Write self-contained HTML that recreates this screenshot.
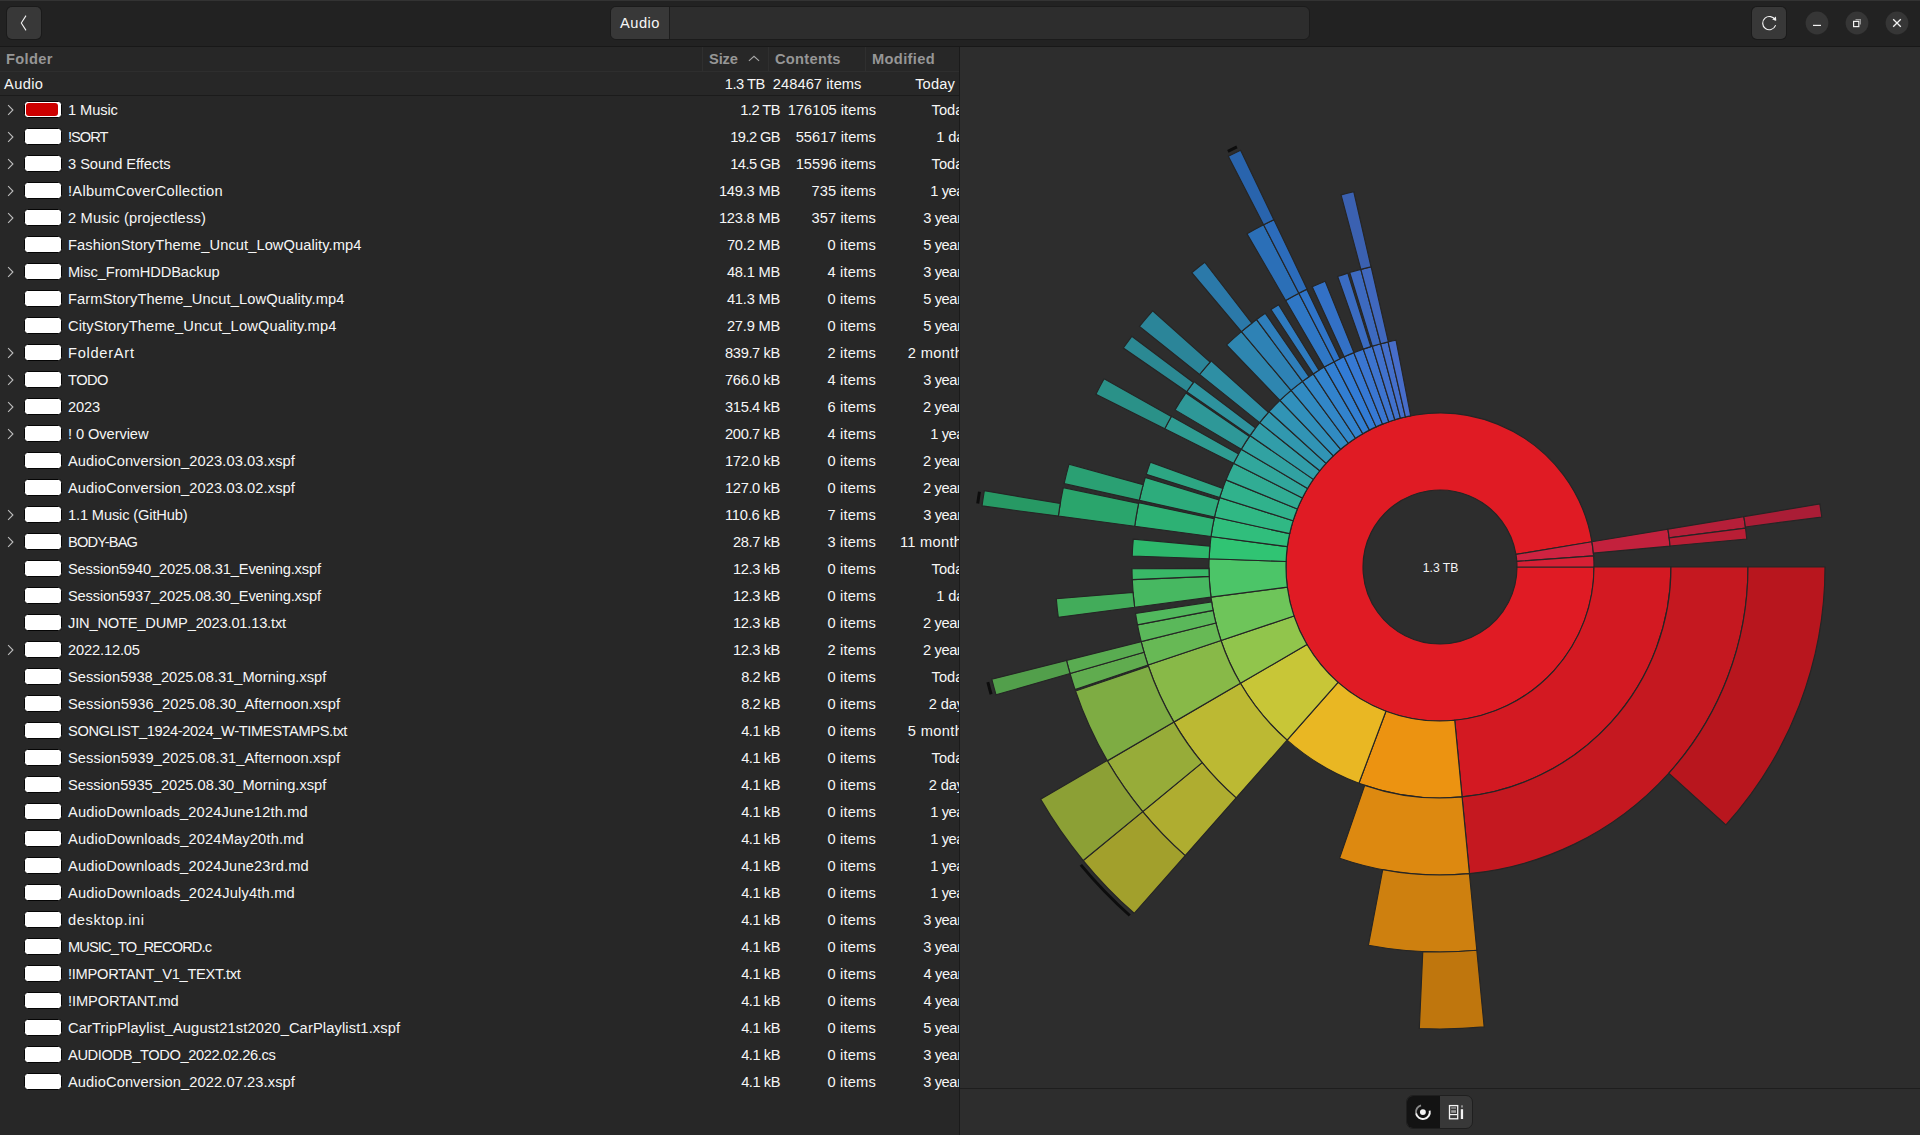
<!DOCTYPE html>
<html lang="en">
<head>
<meta charset="utf-8">
<title>Disk Usage Analyzer</title>
<style>
*{box-sizing:border-box;margin:0;padding:0}
html,body{width:1920px;height:1135px;overflow:hidden;background:#272727}
body{position:relative;font-family:"Liberation Sans","DejaVu Sans",sans-serif;font-size:14.667px;color:#f6f6f6;-webkit-font-smoothing:antialiased}
.abs{position:absolute}
#hdr{left:0;top:0;width:1920px;height:47px;background:#222222;border-top:1px solid #333333;border-bottom:1px solid #181818}
.btn{position:absolute;background:#383838;border-radius:5px;box-shadow:0 0 0 1px #1a1a1a}
.circ{position:absolute;width:24px;height:24px;top:11px}
#path{left:610px;top:6px;width:700px;height:34px;background:#2d2d2d;border:1px solid #1b1b1b;border-radius:6px;overflow:hidden}
#path .crumb{position:absolute;left:0;top:0;width:58px;height:32px;background:#383838;border-right:0}
#path .sep{position:absolute;left:58px;top:0;width:1px;height:32px;background:#1d1d1d}
#path .lbl{position:absolute;left:9px;top:0;line-height:32px;white-space:nowrap;color:#f6f6f6}
#left{left:0;top:47px;width:959px;height:1088px;background:#272727;overflow:hidden}
#vsep{left:959px;top:47px;width:1px;height:1088px;background:#1a1a1a}
#right{left:960px;top:47px;width:960px;height:1088px;background:#2d2d2d}
#hsep{left:960px;top:1088px;width:960px;height:1px;background:#1e1e1e}
.ch{position:absolute;top:47px;height:24px;line-height:24px;font-weight:bold;color:#969696;white-space:nowrap}
.vl{position:absolute;top:47px;width:1px;height:24px;background:#2f2f2f}
.hl{position:absolute;left:0;width:959px;height:1px}
.t{position:absolute;top:1px;line-height:27px;white-space:nowrap}
.row{position:absolute;left:0;width:959px;height:27px;overflow:hidden}
.chev{position:absolute;left:6px;top:8px}
.sw{position:absolute;left:24px;top:5px;width:38px;height:17px;border:1px solid #050505;border-radius:3.5px;background:#ffffff}
.sw i{position:absolute;left:1px;top:1px;width:32px;height:13px;background:#cc0000;border-radius:3px}
.nm{left:68px}
.sz{right:179px;text-align:right}
.ct{right:83px;text-align:right}
.md{}
#root{position:absolute;left:0;top:72px;width:959px;height:23px;overflow:hidden}
#root .t{line-height:24px;top:-0.2px}
#seg{left:1406px;top:1095px;width:67px;height:34px;border:1px solid #1f1f1f;border-radius:7px;overflow:hidden;background:#383838}
#seg .a{position:absolute;left:0;top:0;width:33px;height:32px;background:#131313}
</style>
</head>
<body>
<div id="hdr" class="abs"></div>
<div class="btn" style="left:7px;top:7px;width:34px;height:32px"><svg width="34" height="32" viewBox="0 0 34 32"><path d="M19 8.6 L14.3 16 L19 23.4" fill="none" stroke="#f2f2f2" stroke-width="1.1" stroke-linejoin="round"/></svg></div>
<div id="path" class="abs"><div class="crumb"></div><div class="sep"></div><span class="lbl" id="hAudio" style="letter-spacing:0.500px;">Audio</span></div>
<div class="btn" style="left:1752px;top:7px;width:34px;height:32px"><svg width="34" height="32" viewBox="0 0 34 32"><path d="M23.2 13.2 A6.6 6.6 0 1 0 23.4 18.6" fill="none" stroke="#f2f2f2" stroke-width="1.15" stroke-linecap="round"/><path d="M20.2 12.6 L24.3 13.6 L23.9 9.4 Z" fill="#f2f2f2"/></svg></div>
<div class="circ" style="left:1805px"><svg width="24" height="24" viewBox="0 0 24 24"><circle cx="12" cy="12" r="11.4" fill="#363636"/><path d="M8 14.4 H16" stroke="#f2f2f2" stroke-width="1.2" fill="none"/></svg></div>
<div class="circ" style="left:1845px"><svg width="24" height="24" viewBox="0 0 24 24"><circle cx="12" cy="12" r="11.4" fill="#363636"/><path d="M10.5 8.6 H15.4 V13.5" stroke="#9a9a9a" stroke-width="1.1" fill="none"/><rect x="8.6" y="10.4" width="5.2" height="5.2" stroke="#f2f2f2" stroke-width="1.2" fill="none"/></svg></div>
<div class="circ" style="left:1885px"><svg width="24" height="24" viewBox="0 0 24 24"><circle cx="12" cy="12" r="11.4" fill="#363636"/><path d="M8.2 8.2 L15.8 15.8 M15.8 8.2 L8.2 15.8" stroke="#f2f2f2" stroke-width="1.3" fill="none"/></svg></div>

<div id="left" class="abs"></div>
<div id="right" class="abs"></div>
<div id="vsep" class="abs"></div>
<div id="hsep" class="abs"></div>

<span class="ch" id="hf" style="left:6px;letter-spacing:0.341px;">Folder</span>
<span class="ch" id="hs" style="left:709px;letter-spacing:-0.143px;">Size</span>
<svg class="abs" style="left:747px;top:54px" width="14" height="10" viewBox="0 0 14 10"><path d="M1.9 6.9 L7 2.3 L12.1 6.9" fill="none" stroke="#a8a8a8" stroke-width="1.1"/></svg>
<span class="ch" id="hc" style="left:775px;letter-spacing:0.283px;">Contents</span>
<span class="ch" id="hm" style="left:872px;letter-spacing:0.350px;">Modified</span>
<div class="vl" style="left:702px"></div><div class="vl" style="left:768px"></div><div class="vl" style="left:865px"></div>
<div class="hl" style="top:71px;background:#2e2e2e"></div>
<div class="hl" style="top:95px;background:#1b1b1b"></div>

<div id="root">
<span class="t" id="rAudio" style="left:4px;letter-spacing:0.375px;">Audio</span>
<span class="t" id="rsz" style="right:194.3px;letter-spacing:-0.504px;">1.3 TB</span>
<span class="t" id="rct" style="right:97.5px;letter-spacing:0.055px;">248467 items</span>
<span class="t" id="rmd" style="right:4px;letter-spacing:0.148px;">Today</span>
</div>

<div class="row" style="top:96px"><svg class="chev" width="8" height="12" viewBox="0 0 8 12"><path d="M2.1 1.2 L6.9 6 L2.1 10.8" fill="none" stroke="#bdbdbd" stroke-width="1.1"/></svg><span class="sw"><i></i></span><span class="nm t" id="n0" style="letter-spacing:-0.100px;">1 Music</span><span class="sz t" id="s0" style="letter-spacing:-0.524px;">1.2 TB</span><span class="ct t" id="c0" style="letter-spacing:0.027px;">176105 items</span><span class="md t" style="left:931.6px;letter-spacing:0px">Today</span></div>
<div class="row" style="top:123px"><svg class="chev" width="8" height="12" viewBox="0 0 8 12"><path d="M2.1 1.2 L6.9 6 L2.1 10.8" fill="none" stroke="#bdbdbd" stroke-width="1.1"/></svg><span class="sw"></span><span class="nm t" id="n1" style="letter-spacing:-1.033px;">!SORT</span><span class="sz t" id="s1" style="letter-spacing:-0.580px;">19.2 GB</span><span class="ct t" id="c1" style="letter-spacing:0.046px;">55617 items</span><span class="md t" style="left:936.3px;letter-spacing:-0.13px">1 day</span></div>
<div class="row" style="top:150px"><svg class="chev" width="8" height="12" viewBox="0 0 8 12"><path d="M2.1 1.2 L6.9 6 L2.1 10.8" fill="none" stroke="#bdbdbd" stroke-width="1.1"/></svg><span class="sw"></span><span class="nm t" id="n2" style="letter-spacing:-0.044px;">3 Sound Effects</span><span class="sz t" id="s2" style="letter-spacing:-0.580px;">14.5 GB</span><span class="ct t" id="c2" style="letter-spacing:0.046px;">15596 items</span><span class="md t" style="left:931.6px;letter-spacing:0px">Today</span></div>
<div class="row" style="top:177px"><svg class="chev" width="8" height="12" viewBox="0 0 8 12"><path d="M2.1 1.2 L6.9 6 L2.1 10.8" fill="none" stroke="#bdbdbd" stroke-width="1.1"/></svg><span class="sw"></span><span class="nm t" id="n3" style="letter-spacing:0.276px;">!AlbumCoverCollection</span><span class="sz t" id="s3" style="letter-spacing:-0.205px;">149.3 MB</span><span class="ct t" id="c3" style="letter-spacing:0.094px;">735 items</span><span class="md t" style="left:930.3px;letter-spacing:-0.43px">1 year</span></div>
<div class="row" style="top:204px"><svg class="chev" width="8" height="12" viewBox="0 0 8 12"><path d="M2.1 1.2 L6.9 6 L2.1 10.8" fill="none" stroke="#bdbdbd" stroke-width="1.1"/></svg><span class="sw"></span><span class="nm t" id="n4" style="letter-spacing:0.170px;">2 Music (projectless)</span><span class="sz t" id="s4" style="letter-spacing:-0.205px;">123.8 MB</span><span class="ct t" id="c4" style="letter-spacing:0.094px;">357 items</span><span class="md t" style="left:923.2px;letter-spacing:-0.38px">3 years</span></div>
<div class="row" style="top:231px"><span class="sw"></span><span class="nm t" id="n5" style="letter-spacing:0.077px;">FashionStoryTheme_Uncut_LowQuality.mp4</span><span class="sz t" id="s5" style="letter-spacing:-0.216px;">70.2 MB</span><span class="ct t" id="c5" style="letter-spacing:0.175px;">0 items</span><span class="md t" style="left:923.2px;letter-spacing:-0.38px">5 years</span></div>
<div class="row" style="top:258px"><svg class="chev" width="8" height="12" viewBox="0 0 8 12"><path d="M2.1 1.2 L6.9 6 L2.1 10.8" fill="none" stroke="#bdbdbd" stroke-width="1.1"/></svg><span class="sw"></span><span class="nm t" id="n6" style="letter-spacing:-0.089px;">Misc_FromHDDBackup</span><span class="sz t" id="s6" style="letter-spacing:-0.216px;">48.1 MB</span><span class="ct t" id="c6" style="letter-spacing:0.175px;">4 items</span><span class="md t" style="left:923.2px;letter-spacing:-0.38px">3 years</span></div>
<div class="row" style="top:285px"><span class="sw"></span><span class="nm t" id="n7" style="letter-spacing:0.111px;">FarmStoryTheme_Uncut_LowQuality.mp4</span><span class="sz t" id="s7" style="letter-spacing:-0.216px;">41.3 MB</span><span class="ct t" id="c7" style="letter-spacing:0.175px;">0 items</span><span class="md t" style="left:923.2px;letter-spacing:-0.38px">5 years</span></div>
<div class="row" style="top:312px"><span class="sw"></span><span class="nm t" id="n8" style="letter-spacing:0.140px;">CityStoryTheme_Uncut_LowQuality.mp4</span><span class="sz t" id="s8" style="letter-spacing:-0.216px;">27.9 MB</span><span class="ct t" id="c8" style="letter-spacing:0.175px;">0 items</span><span class="md t" style="left:923.2px;letter-spacing:-0.38px">5 years</span></div>
<div class="row" style="top:339px"><svg class="chev" width="8" height="12" viewBox="0 0 8 12"><path d="M2.1 1.2 L6.9 6 L2.1 10.8" fill="none" stroke="#bdbdbd" stroke-width="1.1"/></svg><span class="sw"></span><span class="nm t" id="n9" style="letter-spacing:0.715px;">FolderArt</span><span class="sz t" id="s9" style="letter-spacing:-0.366px;">839.7 kB</span><span class="ct t" id="c9" style="letter-spacing:0.175px;">2 items</span><span class="md t" style="left:907.7px;letter-spacing:0.36px">2 months</span></div>
<div class="row" style="top:366px"><svg class="chev" width="8" height="12" viewBox="0 0 8 12"><path d="M2.1 1.2 L6.9 6 L2.1 10.8" fill="none" stroke="#bdbdbd" stroke-width="1.1"/></svg><span class="sw"></span><span class="nm t" id="n10" style="letter-spacing:-0.559px;">TODO</span><span class="sz t" id="s10" style="letter-spacing:-0.366px;">766.0 kB</span><span class="ct t" id="c10" style="letter-spacing:0.175px;">4 items</span><span class="md t" style="left:923.2px;letter-spacing:-0.38px">3 years</span></div>
<div class="row" style="top:393px"><svg class="chev" width="8" height="12" viewBox="0 0 8 12"><path d="M2.1 1.2 L6.9 6 L2.1 10.8" fill="none" stroke="#bdbdbd" stroke-width="1.1"/></svg><span class="sw"></span><span class="nm t" id="n11" style="letter-spacing:-0.170px;">2023</span><span class="sz t" id="s11" style="letter-spacing:-0.366px;">315.4 kB</span><span class="ct t" id="c11" style="letter-spacing:0.175px;">6 items</span><span class="md t" style="left:923.1px;letter-spacing:-0.38px">2 years</span></div>
<div class="row" style="top:420px"><svg class="chev" width="8" height="12" viewBox="0 0 8 12"><path d="M2.1 1.2 L6.9 6 L2.1 10.8" fill="none" stroke="#bdbdbd" stroke-width="1.1"/></svg><span class="sw"></span><span class="nm t" id="n12" style="letter-spacing:-0.087px;">! 0 Overview</span><span class="sz t" id="s12" style="letter-spacing:-0.366px;">200.7 kB</span><span class="ct t" id="c12" style="letter-spacing:0.175px;">4 items</span><span class="md t" style="left:930.3px;letter-spacing:-0.43px">1 year</span></div>
<div class="row" style="top:447px"><span class="sw"></span><span class="nm t" id="n13" style="letter-spacing:0.094px;">AudioConversion_2023.03.03.xspf</span><span class="sz t" id="s13" style="letter-spacing:-0.366px;">172.0 kB</span><span class="ct t" id="c13" style="letter-spacing:0.175px;">0 items</span><span class="md t" style="left:923.1px;letter-spacing:-0.38px">2 years</span></div>
<div class="row" style="top:474px"><span class="sw"></span><span class="nm t" id="n14" style="letter-spacing:0.094px;">AudioConversion_2023.03.02.xspf</span><span class="sz t" id="s14" style="letter-spacing:-0.366px;">127.0 kB</span><span class="ct t" id="c14" style="letter-spacing:0.175px;">0 items</span><span class="md t" style="left:923.1px;letter-spacing:-0.38px">2 years</span></div>
<div class="row" style="top:501px"><svg class="chev" width="8" height="12" viewBox="0 0 8 12"><path d="M2.1 1.2 L6.9 6 L2.1 10.8" fill="none" stroke="#bdbdbd" stroke-width="1.1"/></svg><span class="sw"></span><span class="nm t" id="n15" style="letter-spacing:-0.145px;">1.1 Music (GitHub)</span><span class="sz t" id="s15" style="letter-spacing:-0.209px;">110.6 kB</span><span class="ct t" id="c15" style="letter-spacing:0.175px;">7 items</span><span class="md t" style="left:923.2px;letter-spacing:-0.38px">3 years</span></div>
<div class="row" style="top:528px"><svg class="chev" width="8" height="12" viewBox="0 0 8 12"><path d="M2.1 1.2 L6.9 6 L2.1 10.8" fill="none" stroke="#bdbdbd" stroke-width="1.1"/></svg><span class="sw"></span><span class="nm t" id="n16" style="letter-spacing:-0.862px;">BODY-BAG</span><span class="sz t" id="s16" style="letter-spacing:-0.401px;">28.7 kB</span><span class="ct t" id="c16" style="letter-spacing:0.175px;">3 items</span><span class="md t" style="left:899.9px;letter-spacing:0.29px">11 months</span></div>
<div class="row" style="top:555px"><span class="sw"></span><span class="nm t" id="n17" style="letter-spacing:-0.157px;">Session5940_2025.08.31_Evening.xspf</span><span class="sz t" id="s17" style="letter-spacing:-0.401px;">12.3 kB</span><span class="ct t" id="c17" style="letter-spacing:0.175px;">0 items</span><span class="md t" style="left:931.6px;letter-spacing:0px">Today</span></div>
<div class="row" style="top:582px"><span class="sw"></span><span class="nm t" id="n18" style="letter-spacing:-0.157px;">Session5937_2025.08.30_Evening.xspf</span><span class="sz t" id="s18" style="letter-spacing:-0.401px;">12.3 kB</span><span class="ct t" id="c18" style="letter-spacing:0.175px;">0 items</span><span class="md t" style="left:936.3px;letter-spacing:-0.13px">1 day</span></div>
<div class="row" style="top:609px"><span class="sw"></span><span class="nm t" id="n19" style="letter-spacing:-0.189px;">JIN_NOTE_DUMP_2023.01.13.txt</span><span class="sz t" id="s19" style="letter-spacing:-0.401px;">12.3 kB</span><span class="ct t" id="c19" style="letter-spacing:0.175px;">0 items</span><span class="md t" style="left:923.1px;letter-spacing:-0.38px">2 years</span></div>
<div class="row" style="top:636px"><svg class="chev" width="8" height="12" viewBox="0 0 8 12"><path d="M2.1 1.2 L6.9 6 L2.1 10.8" fill="none" stroke="#bdbdbd" stroke-width="1.1"/></svg><span class="sw"></span><span class="nm t" id="n20" style="letter-spacing:-0.151px;">2022.12.05</span><span class="sz t" id="s20" style="letter-spacing:-0.401px;">12.3 kB</span><span class="ct t" id="c20" style="letter-spacing:0.175px;">2 items</span><span class="md t" style="left:923.1px;letter-spacing:-0.38px">2 years</span></div>
<div class="row" style="top:663px"><span class="sw"></span><span class="nm t" id="n21" style="letter-spacing:-0.000px;">Session5938_2025.08.31_Morning.xspf</span><span class="sz t" id="s21" style="letter-spacing:-0.453px;">8.2 kB</span><span class="ct t" id="c21" style="letter-spacing:0.175px;">0 items</span><span class="md t" style="left:931.6px;letter-spacing:0px">Today</span></div>
<div class="row" style="top:690px"><span class="sw"></span><span class="nm t" id="n22" style="letter-spacing:0.088px;">Session5936_2025.08.30_Afternoon.xspf</span><span class="sz t" id="s22" style="letter-spacing:-0.453px;">8.2 kB</span><span class="ct t" id="c22" style="letter-spacing:0.175px;">0 items</span><span class="md t" style="left:928.8px;letter-spacing:-0.14px">2 days</span></div>
<div class="row" style="top:717px"><span class="sw"></span><span class="nm t" id="n23" style="letter-spacing:-0.391px;">SONGLIST_1924-2024_W-TIMESTAMPS.txt</span><span class="sz t" id="s23" style="letter-spacing:-0.453px;">4.1 kB</span><span class="ct t" id="c23" style="letter-spacing:0.175px;">0 items</span><span class="md t" style="left:907.8px;letter-spacing:0.36px">5 months</span></div>
<div class="row" style="top:744px"><span class="sw"></span><span class="nm t" id="n24" style="letter-spacing:0.088px;">Session5939_2025.08.31_Afternoon.xspf</span><span class="sz t" id="s24" style="letter-spacing:-0.453px;">4.1 kB</span><span class="ct t" id="c24" style="letter-spacing:0.175px;">0 items</span><span class="md t" style="left:931.6px;letter-spacing:0px">Today</span></div>
<div class="row" style="top:771px"><span class="sw"></span><span class="nm t" id="n25" style="letter-spacing:-0.000px;">Session5935_2025.08.30_Morning.xspf</span><span class="sz t" id="s25" style="letter-spacing:-0.453px;">4.1 kB</span><span class="ct t" id="c25" style="letter-spacing:0.175px;">0 items</span><span class="md t" style="left:928.8px;letter-spacing:-0.14px">2 days</span></div>
<div class="row" style="top:798px"><span class="sw"></span><span class="nm t" id="n26" style="letter-spacing:0.145px;">AudioDownloads_2024June12th.md</span><span class="sz t" id="s26" style="letter-spacing:-0.453px;">4.1 kB</span><span class="ct t" id="c26" style="letter-spacing:0.175px;">0 items</span><span class="md t" style="left:930.3px;letter-spacing:-0.43px">1 year</span></div>
<div class="row" style="top:825px"><span class="sw"></span><span class="nm t" id="n27" style="letter-spacing:0.153px;">AudioDownloads_2024May20th.md</span><span class="sz t" id="s27" style="letter-spacing:-0.453px;">4.1 kB</span><span class="ct t" id="c27" style="letter-spacing:0.175px;">0 items</span><span class="md t" style="left:930.3px;letter-spacing:-0.43px">1 year</span></div>
<div class="row" style="top:852px"><span class="sw"></span><span class="nm t" id="n28" style="letter-spacing:0.152px;">AudioDownloads_2024June23rd.md</span><span class="sz t" id="s28" style="letter-spacing:-0.453px;">4.1 kB</span><span class="ct t" id="c28" style="letter-spacing:0.175px;">0 items</span><span class="md t" style="left:930.3px;letter-spacing:-0.43px">1 year</span></div>
<div class="row" style="top:879px"><span class="sw"></span><span class="nm t" id="n29" style="letter-spacing:0.181px;">AudioDownloads_2024July4th.md</span><span class="sz t" id="s29" style="letter-spacing:-0.453px;">4.1 kB</span><span class="ct t" id="c29" style="letter-spacing:0.175px;">0 items</span><span class="md t" style="left:930.3px;letter-spacing:-0.43px">1 year</span></div>
<div class="row" style="top:906px"><span class="sw"></span><span class="nm t" id="n30" style="letter-spacing:0.592px;">desktop.ini</span><span class="sz t" id="s30" style="letter-spacing:-0.453px;">4.1 kB</span><span class="ct t" id="c30" style="letter-spacing:0.175px;">0 items</span><span class="md t" style="left:923.2px;letter-spacing:-0.38px">3 years</span></div>
<div class="row" style="top:933px"><span class="sw"></span><span class="nm t" id="n31" style="letter-spacing:-0.908px;">MUSIC_TO_RECORD.c</span><span class="sz t" id="s31" style="letter-spacing:-0.453px;">4.1 kB</span><span class="ct t" id="c31" style="letter-spacing:0.175px;">0 items</span><span class="md t" style="left:923.2px;letter-spacing:-0.38px">3 years</span></div>
<div class="row" style="top:960px"><span class="sw"></span><span class="nm t" id="n32" style="letter-spacing:-0.273px;">!IMPORTANT_V1_TEXT.txt</span><span class="sz t" id="s32" style="letter-spacing:-0.453px;">4.1 kB</span><span class="ct t" id="c32" style="letter-spacing:0.175px;">0 items</span><span class="md t" style="left:923.5px;letter-spacing:-0.38px">4 years</span></div>
<div class="row" style="top:987px"><span class="sw"></span><span class="nm t" id="n33" style="letter-spacing:-0.095px;">!IMPORTANT.md</span><span class="sz t" id="s33" style="letter-spacing:-0.453px;">4.1 kB</span><span class="ct t" id="c33" style="letter-spacing:0.175px;">0 items</span><span class="md t" style="left:923.5px;letter-spacing:-0.38px">4 years</span></div>
<div class="row" style="top:1014px"><span class="sw"></span><span class="nm t" id="n34" style="letter-spacing:0.127px;">CarTripPlaylist_August21st2020_CarPlaylist1.xspf</span><span class="sz t" id="s34" style="letter-spacing:-0.453px;">4.1 kB</span><span class="ct t" id="c34" style="letter-spacing:0.175px;">0 items</span><span class="md t" style="left:923.2px;letter-spacing:-0.38px">5 years</span></div>
<div class="row" style="top:1041px"><span class="sw"></span><span class="nm t" id="n35" style="letter-spacing:-0.377px;">AUDIODB_TODO_2022.02.26.cs</span><span class="sz t" id="s35" style="letter-spacing:-0.453px;">4.1 kB</span><span class="ct t" id="c35" style="letter-spacing:0.175px;">0 items</span><span class="md t" style="left:923.2px;letter-spacing:-0.38px">3 years</span></div>
<div class="row" style="top:1068px"><span class="sw"></span><span class="nm t" id="n36" style="letter-spacing:0.094px;">AudioConversion_2022.07.23.xspf</span><span class="sz t" id="s36" style="letter-spacing:-0.453px;">4.1 kB</span><span class="ct t" id="c36" style="letter-spacing:0.175px;">0 items</span><span class="md t" style="left:923.2px;letter-spacing:-0.38px">3 years</span></div>

<svg class="abs" style="left:960px;top:47px" width="960" height="1041" viewBox="960 47 960 1041">
<g stroke="#252525" stroke-width="1.15" stroke-linejoin="miter">
<path d="M1517.00 567.00L1594.00 567.00A154.00 154.00 0 1 1 1591.92 541.79L1515.96 554.40A77.00 77.00 0 1 0 1517.00 567.00Z" fill="#e01b24"/>
<path d="M1515.96 554.40L1591.92 541.79A154.00 154.00 0 0 1 1593.60 555.86L1516.80 561.43A77.00 77.00 0 0 0 1515.96 554.40Z" fill="#cf2341"/>
<path d="M1516.80 561.43L1593.60 555.86A154.00 154.00 0 0 1 1594.00 567.00L1517.00 567.00A77.00 77.00 0 0 0 1516.80 561.43Z" fill="#d62035"/>
<path d="M1591.92 541.79L1667.88 529.19A231.00 231.00 0 0 1 1670.06 546.14L1593.37 553.09A154.00 154.00 0 0 0 1591.92 541.79Z" fill="#c3213d"/>
<path d="M1594.00 567.00L1671.00 567.00A231.00 231.00 0 0 1 1462.08 796.94L1454.72 720.29A154.00 154.00 0 0 0 1594.00 567.00Z" fill="#d31922"/>
<path d="M1454.72 720.29L1462.08 796.94A231.00 231.00 0 0 1 1358.93 783.31L1385.95 711.20A154.00 154.00 0 0 0 1454.72 720.29Z" fill="#ec9311"/>
<path d="M1385.95 711.20L1358.93 783.31A231.00 231.00 0 0 1 1287.09 740.15L1338.06 682.43A154.00 154.00 0 0 0 1385.95 711.20Z" fill="#e9b723"/>
<path d="M1338.06 682.43L1287.09 740.15A231.00 231.00 0 0 1 1240.42 683.32L1306.95 644.54A154.00 154.00 0 0 0 1338.06 682.43Z" fill="#c8c637"/>
<path d="M1306.95 644.54L1240.42 683.32A231.00 231.00 0 0 1 1221.00 640.48L1294.00 615.98A154.00 154.00 0 0 0 1306.95 644.54Z" fill="#91c54c"/>
<path d="M1294.00 615.98L1221.00 640.48A231.00 231.00 0 0 1 1210.98 597.17L1287.32 587.11A154.00 154.00 0 0 0 1294.00 615.98Z" fill="#6ec55a"/>
<path d="M1287.32 587.11L1210.98 597.17A231.00 231.00 0 0 1 1209.15 558.76L1286.10 561.50A154.00 154.00 0 0 0 1287.32 587.11Z" fill="#4cc568"/>
<path d="M1286.10 561.50L1209.15 558.76A231.00 231.00 0 0 1 1211.03 536.46L1287.35 546.64A154.00 154.00 0 0 0 1286.10 561.50Z" fill="#30c473"/>
<path d="M1287.35 546.64L1211.03 536.46A231.00 231.00 0 0 1 1214.47 517.01L1289.65 533.67A154.00 154.00 0 0 0 1287.35 546.64Z" fill="#30be7c"/>
<path d="M1289.65 533.67L1214.47 517.01A231.00 231.00 0 0 1 1219.69 497.53L1293.13 520.69A154.00 154.00 0 0 0 1289.65 533.67Z" fill="#30b884"/>
<path d="M1293.13 520.69L1219.69 497.53A231.00 231.00 0 0 1 1226.06 479.88L1297.37 508.92A154.00 154.00 0 0 0 1293.13 520.69Z" fill="#30b28c"/>
<path d="M1297.37 508.92L1226.06 479.88A231.00 231.00 0 0 1 1233.56 463.35L1302.37 497.90A154.00 154.00 0 0 0 1297.37 508.92Z" fill="#31ac94"/>
<path d="M1302.37 497.90L1233.56 463.35A231.00 231.00 0 0 1 1241.31 449.18L1307.54 488.45A154.00 154.00 0 0 0 1302.37 497.90Z" fill="#31a79c"/>
<path d="M1307.54 488.45L1241.31 449.18A231.00 231.00 0 0 1 1250.02 435.59L1313.35 479.39A154.00 154.00 0 0 0 1307.54 488.45Z" fill="#31a2a2"/>
<path d="M1313.35 479.39L1250.02 435.59A231.00 231.00 0 0 1 1259.67 422.63L1319.78 470.76A154.00 154.00 0 0 0 1313.35 479.39Z" fill="#319da9"/>
<path d="M1319.78 470.76L1259.67 422.63A231.00 231.00 0 0 1 1269.11 411.58L1326.07 463.38A154.00 154.00 0 0 0 1319.78 470.76Z" fill="#3198af"/>
<path d="M1326.07 463.38L1269.11 411.58A231.00 231.00 0 0 1 1279.95 400.43L1333.30 455.96A154.00 154.00 0 0 0 1326.07 463.38Z" fill="#3194b5"/>
<path d="M1333.30 455.96L1279.95 400.43A231.00 231.00 0 0 1 1291.05 390.43L1340.70 449.29A154.00 154.00 0 0 0 1333.30 455.96Z" fill="#3190bc"/>
<path d="M1340.70 449.29L1291.05 390.43A231.00 231.00 0 0 1 1302.46 381.41L1348.31 443.27A154.00 154.00 0 0 0 1340.70 449.29Z" fill="#318bc2"/>
<path d="M1348.31 443.27L1302.46 381.41A231.00 231.00 0 0 1 1313.23 373.90L1355.48 438.26A154.00 154.00 0 0 0 1348.31 443.27Z" fill="#3287c8"/>
<path d="M1355.48 438.26L1313.23 373.90A231.00 231.00 0 0 1 1324.23 367.10L1362.82 433.74A154.00 154.00 0 0 0 1355.48 438.26Z" fill="#3283cd"/>
<path d="M1362.82 433.74L1324.23 367.10A231.00 231.00 0 0 1 1334.16 361.68L1369.44 430.12A154.00 154.00 0 0 0 1362.82 433.74Z" fill="#327fd2"/>
<path d="M1369.44 430.12L1334.16 361.68A231.00 231.00 0 0 1 1344.15 356.82L1376.10 426.88A154.00 154.00 0 0 0 1369.44 430.12Z" fill="#327cd6"/>
<path d="M1376.10 426.88L1344.15 356.82A231.00 231.00 0 0 1 1353.81 352.68L1382.54 424.12A154.00 154.00 0 0 0 1376.10 426.88Z" fill="#3679d4"/>
<path d="M1382.54 424.12L1353.81 352.68A231.00 231.00 0 0 1 1363.27 349.12L1388.84 421.74A154.00 154.00 0 0 0 1382.54 424.12Z" fill="#3a76d1"/>
<path d="M1388.84 421.74L1363.27 349.12A231.00 231.00 0 0 1 1372.29 346.15L1394.86 419.76A154.00 154.00 0 0 0 1388.84 421.74Z" fill="#3d74cf"/>
<path d="M1394.86 419.76L1372.29 346.15A231.00 231.00 0 0 1 1380.64 343.76L1400.43 418.17A154.00 154.00 0 0 0 1394.86 419.76Z" fill="#4171cd"/>
<path d="M1400.43 418.17L1380.64 343.76A231.00 231.00 0 0 1 1388.10 341.91L1405.40 416.94A154.00 154.00 0 0 0 1400.43 418.17Z" fill="#446fcb"/>
<path d="M1405.40 416.94L1388.10 341.91A231.00 231.00 0 0 1 1396.00 340.23L1410.67 415.82A154.00 154.00 0 0 0 1405.40 416.94Z" fill="#476dca"/>
<path d="M1667.88 529.19L1743.85 516.59A308.00 308.00 0 0 1 1745.53 528.08L1669.15 537.81A231.00 231.00 0 0 0 1667.88 529.19Z" fill="#b61f39"/>
<path d="M1669.15 537.81L1745.53 528.08A308.00 308.00 0 0 1 1746.72 538.96L1670.04 545.97A231.00 231.00 0 0 0 1669.15 537.81Z" fill="#b91e35"/>
<path d="M1671.00 567.00L1748.00 567.00A308.00 308.00 0 0 1 1469.44 873.59L1462.08 796.94A231.00 231.00 0 0 0 1671.00 567.00Z" fill="#c51820"/>
<path d="M1462.08 796.94L1469.44 873.59A308.00 308.00 0 0 1 1339.62 858.18L1364.71 785.39A231.00 231.00 0 0 0 1462.08 796.94Z" fill="#dd8910"/>
<path d="M1287.09 740.15L1236.13 797.87A308.00 308.00 0 0 1 1173.90 722.09L1240.42 683.32A231.00 231.00 0 0 0 1287.09 740.15Z" fill="#bcb933"/>
<path d="M1240.42 683.32L1173.90 722.09A308.00 308.00 0 0 1 1148.00 664.97L1221.00 640.48A231.00 231.00 0 0 0 1240.42 683.32Z" fill="#88b948"/>
<path d="M1221.00 640.48L1148.00 664.97A308.00 308.00 0 0 1 1141.18 641.64L1215.89 622.98A231.00 231.00 0 0 0 1221.00 640.48Z" fill="#67b955"/>
<path d="M1215.89 622.98L1141.18 641.64A308.00 308.00 0 0 1 1137.48 624.85L1213.11 610.39A231.00 231.00 0 0 0 1215.89 622.98Z" fill="#5ab85a"/>
<path d="M1213.11 610.39L1137.48 624.85A308.00 308.00 0 0 1 1135.52 613.43L1211.64 601.83A231.00 231.00 0 0 0 1213.11 610.39Z" fill="#51b85d"/>
<path d="M1210.98 597.17L1134.64 607.22A308.00 308.00 0 0 1 1132.26 579.57L1209.19 576.43A231.00 231.00 0 0 0 1210.98 597.17Z" fill="#47b861"/>
<path d="M1209.19 576.43L1132.26 579.57A308.00 308.00 0 0 1 1132.00 568.73L1209.00 568.30A231.00 231.00 0 0 0 1209.19 576.43Z" fill="#39b867"/>
<path d="M1209.15 558.76L1132.20 556.01A308.00 308.00 0 0 1 1133.27 539.09L1209.95 546.07A231.00 231.00 0 0 0 1209.15 558.76Z" fill="#2db86c"/>
<path d="M1211.03 536.46L1134.70 526.28A308.00 308.00 0 0 1 1138.79 502.70L1214.09 518.77A231.00 231.00 0 0 0 1211.03 536.46Z" fill="#2db174"/>
<path d="M1214.47 517.01L1139.30 500.34A308.00 308.00 0 0 1 1145.31 477.45L1218.98 499.84A231.00 231.00 0 0 0 1214.47 517.01Z" fill="#2dac7c"/>
<path d="M1219.69 497.53L1146.26 474.37A308.00 308.00 0 0 1 1150.40 462.14L1222.80 488.36A231.00 231.00 0 0 0 1219.69 497.53Z" fill="#2da683"/>
<path d="M1233.56 463.35L1164.75 428.79A308.00 308.00 0 0 1 1171.43 416.22L1238.58 453.91A231.00 231.00 0 0 0 1233.56 463.35Z" fill="#2e9c92"/>
<path d="M1241.31 449.18L1175.07 409.91A308.00 308.00 0 0 1 1185.92 392.92L1249.44 436.44A231.00 231.00 0 0 0 1241.31 449.18Z" fill="#2e9898"/>
<path d="M1250.02 435.59L1186.70 391.78A308.00 308.00 0 0 1 1194.08 381.56L1255.56 427.92A231.00 231.00 0 0 0 1250.02 435.59Z" fill="#2e939e"/>
<path d="M1259.67 422.63L1199.56 374.51A308.00 308.00 0 0 1 1211.20 360.81L1268.40 412.35A231.00 231.00 0 0 0 1259.67 422.63Z" fill="#2e8fa4"/>
<path d="M1279.95 400.43L1226.60 344.91A308.00 308.00 0 0 1 1241.41 331.58L1291.05 390.43A231.00 231.00 0 0 0 1279.95 400.43Z" fill="#2e86b0"/>
<path d="M1291.05 390.43L1241.41 331.58A308.00 308.00 0 0 1 1256.61 319.55L1302.46 381.41A231.00 231.00 0 0 0 1291.05 390.43Z" fill="#2e82b5"/>
<path d="M1302.46 381.41L1256.61 319.55A308.00 308.00 0 0 1 1265.30 313.34L1308.98 376.75A231.00 231.00 0 0 0 1302.46 381.41Z" fill="#2e7ebb"/>
<path d="M1313.23 373.90L1270.97 309.53A308.00 308.00 0 0 1 1278.61 304.67L1318.96 370.25A231.00 231.00 0 0 0 1313.23 373.90Z" fill="#2e7bc0"/>
<path d="M1324.23 367.10L1285.64 300.47A308.00 308.00 0 0 1 1298.88 293.23L1334.16 361.68A231.00 231.00 0 0 0 1324.23 367.10Z" fill="#2f77c5"/>
<path d="M1334.16 361.68L1298.88 293.23A308.00 308.00 0 0 1 1306.72 289.33L1340.04 358.75A231.00 231.00 0 0 0 1334.16 361.68Z" fill="#2f74c8"/>
<path d="M1344.15 356.82L1312.21 286.76A308.00 308.00 0 0 1 1325.20 281.19L1353.90 352.65A231.00 231.00 0 0 0 1344.15 356.82Z" fill="#3371c6"/>
<path d="M1363.27 349.12L1337.69 276.49A308.00 308.00 0 0 1 1347.76 273.14L1370.82 346.60A231.00 231.00 0 0 0 1363.27 349.12Z" fill="#3a6cc2"/>
<path d="M1372.29 346.15L1349.72 272.53A308.00 308.00 0 0 1 1360.86 269.34L1380.64 343.76A231.00 231.00 0 0 0 1372.29 346.15Z" fill="#3d6ac0"/>
<path d="M1380.64 343.76L1360.86 269.34A308.00 308.00 0 0 1 1371.14 266.80L1388.36 341.85A231.00 231.00 0 0 0 1380.64 343.76Z" fill="#4068be"/>
<path d="M1743.85 516.59L1819.81 503.99A385.00 385.00 0 0 1 1821.73 516.97L1745.39 526.97A308.00 308.00 0 0 0 1743.85 516.59Z" fill="#aa1d36"/>
<path d="M1748.00 567.00L1825.00 567.00A385.00 385.00 0 0 1 1725.91 824.84L1668.73 773.27A308.00 308.00 0 0 0 1748.00 567.00Z" fill="#b8161e"/>
<path d="M1469.44 873.59L1476.80 950.24A385.00 385.00 0 0 1 1368.40 945.28L1382.72 869.63A308.00 308.00 0 0 0 1469.44 873.59Z" fill="#ce800f"/>
<path d="M1236.13 797.87L1185.16 855.58A385.00 385.00 0 0 1 1142.69 811.60L1202.15 762.68A308.00 308.00 0 0 0 1236.13 797.87Z" fill="#afad30"/>
<path d="M1202.15 762.68L1142.69 811.60A385.00 385.00 0 0 1 1107.37 760.86L1173.90 722.09A308.00 308.00 0 0 0 1202.15 762.68Z" fill="#97ac39"/>
<path d="M1173.90 722.09L1107.37 760.86A385.00 385.00 0 0 1 1075.53 691.05L1148.43 666.24A308.00 308.00 0 0 0 1173.90 722.09Z" fill="#7eac43"/>
<path d="M1148.00 664.97L1075.00 689.46A385.00 385.00 0 0 1 1070.03 673.51L1144.02 652.21A308.00 308.00 0 0 0 1148.00 664.97Z" fill="#60ac4f"/>
<path d="M1144.02 652.21L1070.03 673.51A385.00 385.00 0 0 1 1066.52 660.46L1141.21 641.77A308.00 308.00 0 0 0 1144.02 652.21Z" fill="#59ac51"/>
<path d="M1134.64 607.22L1058.30 617.28A385.00 385.00 0 0 1 1056.31 598.75L1133.05 592.40A308.00 308.00 0 0 0 1134.64 607.22Z" fill="#42ac5a"/>
<path d="M1134.70 526.28L1058.38 516.11A385.00 385.00 0 0 1 1063.28 487.61L1138.62 503.49A308.00 308.00 0 0 0 1134.70 526.28Z" fill="#2aa56c"/>
<path d="M1139.30 500.34L1064.12 483.68A385.00 385.00 0 0 1 1069.01 464.10L1143.20 484.68A308.00 308.00 0 0 0 1139.30 500.34Z" fill="#2aa073"/>
<path d="M1164.75 428.79L1095.94 394.24A385.00 385.00 0 0 1 1104.12 378.82L1171.30 416.46A308.00 308.00 0 0 0 1164.75 428.79Z" fill="#2a9188"/>
<path d="M1186.70 391.78L1123.37 347.98A385.00 385.00 0 0 1 1131.78 336.29L1193.43 382.43A308.00 308.00 0 0 0 1186.70 391.78Z" fill="#2b8993"/>
<path d="M1199.56 374.51L1139.45 326.39A385.00 385.00 0 0 1 1152.63 310.79L1210.11 362.03A308.00 308.00 0 0 0 1199.56 374.51Z" fill="#2b8599"/>
<path d="M1241.41 331.58L1191.76 272.72A385.00 385.00 0 0 1 1204.73 262.25L1251.78 323.20A308.00 308.00 0 0 0 1241.41 331.58Z" fill="#2b79a9"/>
<path d="M1285.64 300.47L1247.05 233.84A385.00 385.00 0 0 1 1263.59 224.79L1298.88 293.23A308.00 308.00 0 0 0 1285.64 300.47Z" fill="#2b6fb7"/>
<path d="M1298.88 293.23L1263.59 224.79A385.00 385.00 0 0 1 1273.93 219.66L1307.14 289.13A308.00 308.00 0 0 0 1298.88 293.23Z" fill="#2c6cbb"/>
<path d="M1360.86 269.34L1341.07 194.93A385.00 385.00 0 0 1 1353.78 191.78L1371.02 266.82A308.00 308.00 0 0 0 1360.86 269.34Z" fill="#3b61b1"/>
<path d="M1476.80 950.24L1484.16 1026.88A462.00 462.00 0 0 1 1419.33 1028.54L1422.77 951.61A385.00 385.00 0 0 0 1476.80 950.24Z" fill="#bf760d"/>
<path d="M1185.16 855.58L1134.19 913.30A462.00 462.00 0 0 1 1083.23 860.52L1142.69 811.60A385.00 385.00 0 0 0 1185.16 855.58Z" fill="#a2a02c"/>
<path d="M1129.74 915.50A466.60 466.60 0 0 1 1080.87 864.89" fill="none" stroke="#0d0d0d" stroke-width="3"/>
<path d="M1142.69 811.60L1083.23 860.52A462.00 462.00 0 0 1 1040.57 799.16L1107.14 760.47A385.00 385.00 0 0 0 1142.69 811.60Z" fill="#8ca035"/>
<path d="M1070.03 673.51L996.03 694.81A462.00 462.00 0 0 1 991.85 679.27L1066.54 660.55A385.00 385.00 0 0 0 1070.03 673.51Z" fill="#529f4b"/>
<path d="M991.10 694.28A466.60 466.60 0 0 1 987.84 682.20" fill="none" stroke="#0d0d0d" stroke-width="3"/>
<path d="M1058.38 516.11L982.05 505.93A462.00 462.00 0 0 1 984.34 490.75L1060.28 503.45A385.00 385.00 0 0 0 1058.38 516.11Z" fill="#279964"/>
<path d="M977.75 503.46A466.60 466.60 0 0 1 979.49 491.83" fill="none" stroke="#0d0d0d" stroke-width="3"/>
<path d="M1263.59 224.79L1228.31 156.35A462.00 462.00 0 0 1 1240.61 150.24L1273.84 219.70A385.00 385.00 0 0 0 1263.59 224.79Z" fill="#2964ad"/>
<path d="M1227.87 151.41A466.60 466.60 0 0 1 1236.93 146.91" fill="none" stroke="#0d0d0d" stroke-width="3"/>
</g>
<text id="ctr" x="1440.6" y="571.6" text-anchor="middle" font-family="Liberation Sans, DejaVu Sans, sans-serif" font-size="12.2" fill="#f4f4f4" stroke="none" style="">1.3 TB</text>
</svg>

<div id="seg" class="abs"><div class="a"></div>
<svg class="abs" style="left:0;top:0" width="65" height="32" viewBox="0 0 65 32">
<circle cx="15.9" cy="16.1" r="2.95" fill="#f4f4f4"/>
<path d="M9.04 17.22 A6.95 6.95 0 1 0 22.69 14.61" fill="none" stroke="#f4f4f4" stroke-width="1.9"/>
<path d="M14.03 9.41 A6.95 6.95 0 0 0 9.04 17.22" fill="none" stroke="#8c8c8c" stroke-width="1.9"/>
<rect x="42.5" y="9.6" width="8.2" height="13.2" fill="none" stroke="#f4f4f4" stroke-width="1.3"/>
<rect x="44.2" y="11.3" width="4.8" height="1.4" fill="#9a9a9a"/>
<rect x="44.2" y="14.2" width="4.8" height="2.6" fill="#9a9a9a"/>
<rect x="43" y="18" width="7.2" height="1.2" fill="#f4f4f4"/>
<rect x="54" y="9.3" width="2" height="2.2" fill="#8a8a8a"/>
<rect x="53.8" y="13.2" width="2.3" height="9.8" fill="#f4f4f4"/>
</svg></div>
</body>
</html>
